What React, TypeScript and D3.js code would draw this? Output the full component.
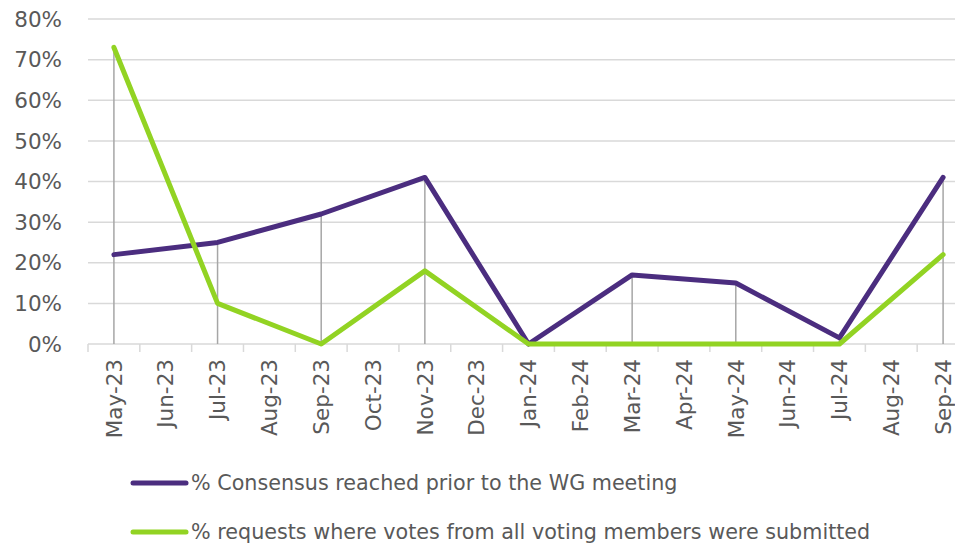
import React, { useRef, useEffect } from 'react';
import * as d3 from 'd3';

// months on the category axis
const months = ['May-23', 'Jun-23', 'Jul-23', 'Aug-23', 'Sep-23', 'Oct-23', 'Nov-23', 'Dec-23',
  'Jan-24', 'Feb-24', 'Mar-24', 'Apr-24', 'May-24', 'Jun-24', 'Jul-24', 'Aug-24', 'Sep-24'];
// months that hold a value
const dataMonths = ['May-23', 'Jul-23', 'Sep-23', 'Nov-23', 'Jan-24', 'Mar-24', 'May-24', 'Jul-24', 'Sep-24'];
const consensus = [22, 25, 32, 41, 0, 17, 15, 1.5, 41];
const votes = [73, 10, 0, 18, 0, 0, 0, 0, 22];
const yTicks = [0, 10, 20, 30, 40, 50, 60, 70, 80];

const seriesNames = [
  '% Consensus reached prior to the WG meeting',
  '% requests where votes from all voting members were submitted',
];
const colors = ['#4b2d7f', '#92d323'];

const W = 955;
const H = 546;
const FONT = '"DejaVu Sans", sans-serif';

const App = () => {
  const svgRef = useRef<SVGSVGElement>(null);

  useEffect(() => {
    const svg = d3.select(svgRef.current);
    svg.selectAll('*').remove();

    const left = 88, right = 969, top = 19, bottom = 344;

    const x = d3.scaleBand<string>().domain(months).range([left, right]);
    const y = d3.scaleLinear().domain([0, 80]).range([bottom, top]);
    const cx = (m: string) => (x(m) as number) + x.bandwidth() / 2;

    // gridlines
    svg.append('g')
      .selectAll('line')
      .data(yTicks.filter(t => t > 0))
      .join('line')
      .attr('x1', left).attr('x2', W)
      .attr('y1', d => y(d)).attr('y2', d => y(d))
      .attr('stroke', '#d9d9d9').attr('stroke-width', 1.5);

    // y labels
    svg.append('g')
      .selectAll('text')
      .data(yTicks)
      .join('text')
      .attr('x', 62).attr('y', d => y(d))
      .attr('dy', '0.36em')
      .attr('text-anchor', 'end')
      .attr('font-family', FONT).attr('font-size', 21.5)
      .attr('fill', '#595959')
      .text(d => d + '%');

    // x axis
    const xAxis = d3.axisBottom(x).tickSize(0).tickFormat(() => '');
    const gx = svg.append('g').attr('transform', `translate(0,${bottom})`).call(xAxis);
    gx.select('.domain').remove();
    gx.append('line').attr('x1', left).attr('x2', W).attr('stroke', '#d9d9d9').attr('stroke-width', 1.5);
    gx.selectAll('.sep')
      .data(d3.range(months.length + 1))
      .join('line')
      .attr('class', 'sep')
      .attr('x1', i => left + i * x.step()).attr('x2', i => left + i * x.step())
      .attr('y1', 0).attr('y2', 8)
      .attr('stroke', '#d9d9d9').attr('stroke-width', 1.5);

    svg.append('g')
      .selectAll('text')
      .data(months)
      .join('text')
      .attr('transform', d => `translate(${cx(d)},${bottom + 15}) rotate(-90)`)
      .attr('dy', '0.36em')
      .attr('text-anchor', 'end')
      .attr('font-family', FONT).attr('font-size', 21.5)
      .attr('fill', '#595959')
      .text(d => d);

    // drop lines
    svg.append('g')
      .selectAll('line')
      .data(dataMonths)
      .join('line')
      .attr('x1', d => cx(d)).attr('x2', d => cx(d))
      .attr('y1', (d, i) => y(Math.max(consensus[i], votes[i])))
      .attr('y2', bottom)
      .attr('stroke', '#a6a6a6').attr('stroke-width', 1.5);

    // series lines
    const line = d3.line<number>()
      .x((d, i) => cx(dataMonths[i]))
      .y(d => y(d));

    [consensus, votes].forEach((s, k) => {
      svg.append('path')
        .datum(s)
        .attr('d', line)
        .attr('fill', 'none')
        .attr('stroke', colors[k])
        .attr('stroke-width', 5)
        .attr('stroke-linejoin', 'round')
        .attr('stroke-linecap', 'round');
    });

    // legend
    const lg = svg.append('g')
      .selectAll('g')
      .data(seriesNames)
      .join('g')
      .attr('transform', (d, i) => `translate(133,${483 + i * 49})`);
    lg.append('line')
      .attr('x1', 0).attr('x2', 53)
      .attr('stroke', (d, i) => colors[i])
      .attr('stroke-width', 5)
      .attr('stroke-linecap', 'round');
    lg.append('text')
      .attr('x', 58)
      .attr('dy', '0.36em')
      .attr('font-family', FONT).attr('font-size', 20.7)
      .attr('fill', '#595959')
      .text(d => d);
  }, []);

  return (
    <svg ref={svgRef} width={W} height={H}
      style={{ position: 'absolute', left: 0, top: 0, background: '#fff' }} />
  );
};

export default App;
